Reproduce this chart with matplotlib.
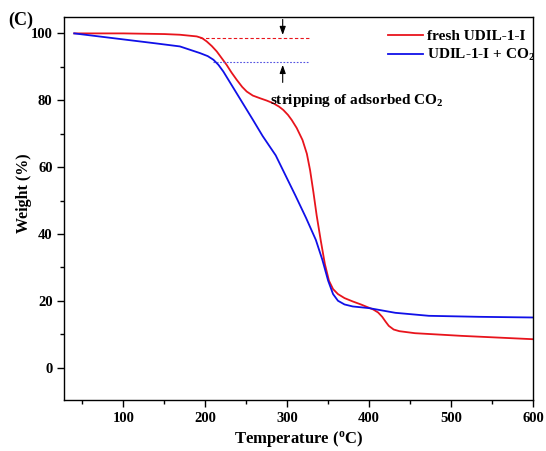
import matplotlib
matplotlib.use("Agg")
import matplotlib.pyplot as plt
from matplotlib.ticker import MultipleLocator

plt.rcParams["font.family"] = "Liberation Serif"
plt.rcParams["font.weight"] = "bold"
plt.rcParams["axes.labelweight"] = "bold"
plt.rcParams["mathtext.fontset"] = "custom"
plt.rcParams["mathtext.rm"] = "Liberation Serif:bold"
plt.rcParams["mathtext.bf"] = "Liberation Serif:bold"
plt.rcParams["mathtext.it"] = "Liberation Serif:bold"

# TGA curves, temperature (C) vs weight (%)
fresh_t = [40, 100, 150, 169, 189.5, 196, 201.7, 208, 214, 220, 226, 232, 238.4,
           245, 250.6, 258, 266.8, 275, 283, 290, 295.2, 301, 305.5, 311.6,
           318.7, 324, 328, 332, 336, 341, 346, 351, 356, 362, 370, 380, 390,
           398, 405, 411, 416, 420, 424, 430, 437, 456, 513, 600]
fresh_w = [100, 100, 99.8, 99.6, 99.1, 98.6, 97.6, 96.2, 94.6, 92.6, 90.6, 88.3,
           86.1, 84, 82.6, 81.4, 80.6, 79.9, 79.1, 78.1, 77.1, 75.6, 74.1, 71.7,
           68.1, 64, 59, 52.5, 45.5, 38, 31, 26, 23.5, 22, 20.8, 19.8, 18.9,
           18.1, 17.4, 16.5, 15.2, 13.8, 12.5, 11.4, 10.9, 10.3, 9.5, 8.5]

co2_t = [40, 60, 100, 140, 169, 193.6, 203, 210, 216, 222, 234, 246, 258, 270,
         286, 298, 310, 323, 335, 343, 350, 356, 362, 370, 380, 400, 432, 473,
         534, 600]
co2_w = [100, 99.4, 98.2, 97, 96.1, 94.1, 93.2, 92.1, 90.6, 88.6, 83.8, 79,
         74.2, 69.3, 63.5, 57.5, 51.5, 44.8, 38.2, 32.2, 26, 22, 20, 18.9,
         18.3, 17.8, 16.4, 15.5, 15.2, 15]

# guide levels marking the CO2 stripping step
fresh_level = 98.7
co2_level = 91.4

fig = plt.figure(figsize=(5.46, 4.51), dpi=100)
ax = fig.add_axes([0.118, 0.113, 0.858, 0.85])

ax.plot(fresh_t, fresh_w, color="#e8141c", lw=1.3, label="fresh UDIL-1-I")
ax.plot(co2_t, co2_w, color="#1010e8", lw=1.3, label="UDIL-1-I + CO$_2$")

ax.hlines(fresh_level, 193, 327, color="#e8141c", lw=0.8, linestyles=(0, (3, 2)))
ax.hlines(co2_level, 210, 327, color="#5050e0", lw=0.8, linestyles=(0, (1.5, 1.5)))

arrow = dict(arrowstyle="-|>,head_length=0.5,head_width=0.18", color="black", lw=0.8)
ax.annotate("", xy=(294.5, fresh_level), xytext=(294.5, 105), arrowprops=arrow)
ax.annotate("", xy=(294.5, co2_level), xytext=(294.5, 84.5), arrowprops=arrow)
ax.text(279, 78.8, "stripping of adsorbed CO$_2$", fontsize=11, va="baseline")

ax.set_xlim(28, 600)
ax.set_ylim(-9.7, 105)
ax.xaxis.set_major_locator(MultipleLocator(100))
ax.xaxis.set_minor_locator(MultipleLocator(50))
ax.yaxis.set_major_locator(MultipleLocator(20))
ax.yaxis.set_minor_locator(MultipleLocator(10))
ax.tick_params(which="major", direction="out", length=5, width=1, labelsize=10.5)
ax.tick_params(which="minor", direction="out", length=3, width=1)
ax.tick_params(top=False, right=False)
for s in ax.spines.values():
    s.set_linewidth(1)

ax.set_xlabel("Temperature ($^\\mathrm{o}$C)", fontsize=12, labelpad=3)
ax.set_ylabel("Weight (%)", fontsize=11.5, labelpad=1)
ax.yaxis.set_label_coords(-0.07, 0.54)

ax.legend(loc="upper right", bbox_to_anchor=(1.025, 0.99), frameon=False,
          fontsize=11, handlelength=2.3, handletextpad=0.3, labelspacing=0.25,
          borderaxespad=0.2)

fig.text(0.015, 0.945, "(C)", fontsize=13)

fig.savefig("out.png", dpi=100)
